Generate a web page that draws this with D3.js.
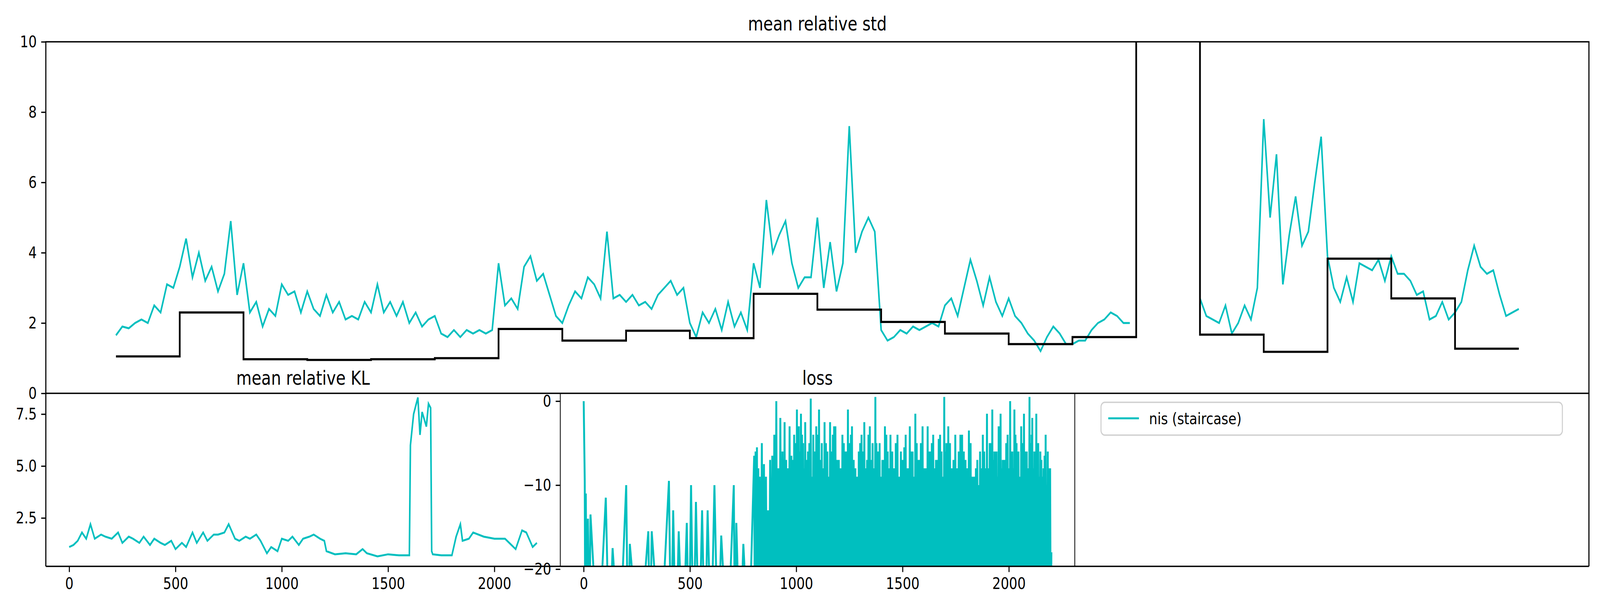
<!DOCTYPE html>
<html><head><meta charset="utf-8">
<script src="https://cdn.jsdelivr.net/npm/d3@7/dist/d3.min.js"></script>
<style>html,body{margin:0;padding:0;background:#fff;overflow:hidden}svg{display:block}text{font-family:"DejaVu Sans",sans-serif}</style>
</head><body><svg id="c" style="width:100vw;height:100vh" viewBox="0 0 5063 1572" preserveAspectRatio="none"></svg>
<script>
// ---- data ----
const stairValues = [1.05,2.3,0.97,0.95,0.97,1.0,1.83,1.5,1.78,1.57,2.83,2.38,2.03,1.7,1.4,1.6,60,1.67,1.18,3.83,2.7,1.27];
const stdValues = [
1.65,1.9,1.85,2.0,2.1,2.0,2.5,2.3,3.1,3.0,
3.6,4.4,3.3,4.0,3.2,3.6,2.9,3.4,4.9,2.8,
3.7,2.3,2.6,1.9,2.4,2.2,3.1,2.8,2.9,2.3,
2.9,2.4,2.2,2.8,2.3,2.6,2.1,2.2,2.1,2.6,
2.3,3.1,2.3,2.6,2.2,2.6,2.0,2.3,1.9,2.1,
2.2,1.7,1.6,1.8,1.6,1.8,1.7,1.8,1.7,1.8,
3.7,2.5,2.7,2.4,3.6,3.9,3.2,3.4,2.8,2.2,
2.0,2.5,2.9,2.7,3.3,3.1,2.7,4.6,2.7,2.8,
2.6,2.8,2.5,2.6,2.4,2.8,3.0,3.2,2.8,3.0,
2.0,1.6,2.3,2.0,2.4,1.8,2.6,1.9,2.3,1.8,
3.7,3.0,5.5,4.0,4.5,4.9,3.7,3.0,3.3,3.3,
5.0,3.0,4.3,2.9,3.7,7.6,4.0,4.6,5.0,4.6,
1.8,1.5,1.6,1.8,1.7,1.9,1.8,1.9,2.0,1.9,
2.5,2.7,2.2,3.0,3.8,3.2,2.5,3.3,2.6,2.2,
2.7,2.2,2.0,1.7,1.5,1.2,1.6,1.9,1.7,1.4,
1.4,1.5,1.5,1.8,2.0,2.1,2.3,2.2,2.0,2.0,
null,null,null,null,null,null,null,null,null,null,
2.7,2.2,2.1,2.0,2.5,1.7,2.0,2.5,2.1,3.0,
7.8,5.0,6.8,3.1,4.5,5.6,4.2,4.6,6.0,7.3,
3.9,3.0,2.6,3.3,2.6,3.7,3.6,3.5,3.8,3.2,
3.9,3.4,3.4,3.2,2.8,2.9,2.1,2.2,2.6,2.1,
2.3,2.6,3.5,4.2,3.6,3.4,3.5,2.8,2.2,2.3,2.4];
const klX = [0,20,40,60,80,100,120,150,170,200,230,250,280,300,330,350,380,400,430,450,480,500,530,550,580,600,630,650,680,700,730,750,780,800,830,850,880,900,930,950,980,1000,1030,1050,1080,1100,1130,1150,1180,1200,1210,1250,1300,1350,1380,1400,1450,1500,1550,1600,1605,1620,1640,1650,1660,1680,1690,1700,1705,1710,1750,1800,1820,1840,1850,1880,1900,1950,2000,2050,2080,2100,2130,2150,2180,2200];
const klY = [1.1,1.2,1.4,1.8,1.5,2.2,1.5,1.7,1.6,1.5,1.8,1.3,1.6,1.5,1.3,1.6,1.2,1.5,1.3,1.2,1.4,1.0,1.3,1.1,1.8,1.3,1.8,1.4,1.7,1.7,1.8,2.2,1.5,1.4,1.6,1.5,1.7,1.4,0.8,1.1,0.9,1.5,1.4,1.6,1.2,1.5,1.6,1.7,1.5,1.4,0.9,0.75,0.8,0.75,1.0,0.8,0.65,0.75,0.7,0.7,6.0,7.5,8.3,6.5,7.6,6.9,8.0,7.8,0.9,0.75,0.7,0.7,1.6,2.2,1.4,1.5,1.8,1.6,1.5,1.5,1.2,1.0,1.9,1.8,1.1,1.3];
const lossX = [0,5,10,20,32,104,136,200,217,304,320,401,421,447,485,505,528,557,583,615,647,706,718,751,802,815,828,848,867,887,906,925,945,960,977,990,1003,1012,1022,1032,1042,1055,1068,1080,1094,1107,1120,1133,1146,1159,1172,1184,1200,1217,1230,1243,1252,1262,1278,1294,1307,1320,1333,1346,1359,1372,1382,1392,1405,1417,1430,1443,1460,1476,1492,1508,1521,1534,1547,1560,1573,1586,1602,1618,1631,1644,1657,1670,1683,1696,1706,1715,1731,1748,1764,1780,1796,1812,1828,1845,1858,1871,1884,1897,1910,1922,1932,1942,1952,1961,1971,1981,1994,2006,2016,2026,2036,2045,2058,2071,2084,2097,2104,2110,2120,2129,2138,2148,2158,2168,2178,2188,2200];
const lossY = [0,-9.5,-11,-14,-13.5,-11.5,-17.5,-10,-17,-15.5,-15.5,-9.5,-13,-15.5,-14.5,-10,-12,-13,-13,-10,-16,-10,-14.5,-17,-6.5,-5.5,-9,-7.5,-13,-6.5,0,-2,-2.5,-8,-6.5,-4,-1,-3,-1.5,-5,-2.5,-6,0.3,-4,-3,-1,-5,-2.5,-6,-2.5,-4,-3,-7,-4,-6,-1,-5,-3,-8,-6,-4,-2.5,-7,-3,-5,0.5,-6,-5,-7,-3,-6,-4,-8,-4,-6,-5.5,-8,-3,-6,-1.5,-7,-5,-8,-3,-6,-4,-7,-4.5,-6,0.5,-5,-3,-8,-4,-6,-4,-7,-3.5,-9,-8,-10,-8,-6,-1.5,-5,-1,-6,-6,-3,-1.5,-7,-7,-4,0,-6,-1,-5,-6,-3,-1.5,-6,0.5,-5,-2,-6,-1.5,-5,-6,-9,-6.5,-10,-8,-18];
// secondary loss samples between the spikes (dense region from index 800)
const lossMid = [-6,-8,-5,-9,-7,-4,-8,-6,-7,-3,-7,-5,-9,-6,-4,-8,-7,-5,-9,-6,-4,-7,-8,-5,-9,-6,-3,-7,-8,-5,-6,-8,-4,-7,-9,-5,-6,-8,-4,-7,-8,-5,-6,-9,-7,-4,-8,-6,-5,-9,-7,-4,-8,-6,-9,-5,-7,-3,-8,-6,-5,-8,-7,-4,-9,-6,-8,-5,-7,-8,-4,-6,-8,-5,-9,-7,-6,-4,-8,-8,-5,-7,-6,-9,-4,-8,-7,-5,-8,-6,-8,-4,-7,-9,-5,-6,-8,-7,-4,-8,-6,-5,-9,-7,-8,-4,-6,-8,-5,-10,-7];
const stdTicks = [0,2,4,6,8,10];
const klTicks = [2.5,5.0,7.5];
const lossTicks = [0,-10,-20];
const xTicks = [0,500,1000,1500,2000];
const legendLabel = "nis (staircase)";

// ---- drawing ----
const svg = d3.select("#c");
const C = "#00bfbf";
const FS = 41.7, TS = 50;
const L=145, R=5028, T=107, M=1007, B=1450;
const xTop = d3.scaleLinear().domain([-110,2310]).range([L,R]);
const yTop = d3.scaleLinear().domain([0,10]).range([M,T]);
const xKL = d3.scaleLinear().domain([-110,2310]).range([L,1773]);
const yKL = d3.scaleLinear().domain([0.17,8.5]).range([B,M]);
const xLoss = d3.scaleLinear().domain([-110,2310]).range([1773,3401]);
const yLoss = d3.scaleLinear().domain([-19.67,0.93]).range([B,M]);

const defs = svg.append("defs");
function clip(id,x0,y0,x1,y1){defs.append("clipPath").attr("id",id).append("rect").attr("x",x0).attr("y",y0).attr("width",x1-x0).attr("height",y1-y0);}
clip("cTop",L,T,R,M); clip("cKL",L,M,1773,B); clip("cLoss",1773,M,3401,B);

// top
const gTop = svg.append("g").attr("clip-path","url(#cTop)");
const stairPts = [];
stairValues.forEach((v,i)=>{stairPts.push([i*100,v]);stairPts.push([(i+1)*100,v]);});
gTop.append("path").datum(stdValues.map((v,i)=>[i*10,v]))
  .attr("d",d3.line().defined(d=>d[1]!==null).x(d=>xTop(d[0])).y(d=>yTop(d[1])))
  .attr("fill","none").attr("stroke",C).attr("stroke-width",5);
gTop.append("path").datum(stairPts)
  .attr("d",d3.line().x(d=>xTop(d[0])).y(d=>yTop(d[1])))
  .attr("fill","none").attr("stroke","#000").attr("stroke-width",5.5);

function yaxis(scale,ticks,x,fmt){
  const g=svg.append("g").attr("transform",`translate(${x},0)`)
    .call(d3.axisLeft(scale).tickValues(ticks).tickSize(14.6).tickPadding(14).tickFormat(fmt));
  g.select(".domain").remove();
  g.selectAll("line").attr("stroke-width",3.3);
  g.selectAll("text").attr("font-size",FS).attr("font-family","DejaVu Sans");
}
function xaxis(scale){
  const g=svg.append("g").attr("transform",`translate(0,${B})`)
    .call(d3.axisBottom(scale).tickValues(xTicks).tickSize(14.6).tickPadding(14).tickFormat(d3.format("d")));
  g.select(".domain").remove();
  g.selectAll("line").attr("stroke-width",3.3);
  g.selectAll("text").attr("font-size",FS).attr("font-family","DejaVu Sans");
}
yaxis(yTop,stdTicks,L,d3.format("d"));
yaxis(yKL,klTicks,L,d3.format(".1f"));
yaxis(yLoss,lossTicks,1773,d=>d<0?"\u2212"+Math.abs(d):String(d));
xaxis(xKL); xaxis(xLoss);

// KL
svg.append("g").attr("clip-path","url(#cKL)").append("path")
  .datum(klX.map((x,i)=>[x,klY[i]]))
  .attr("d",d3.line().x(d=>xKL(d[0])).y(d=>yKL(d[1])))
  .attr("fill","none").attr("stroke",C).attr("stroke-width",5);

// loss
const lossPts=[]; let mi=0;
lossX.forEach((x,i)=>{
  lossPts.push([x,lossY[i]]);
  if(i>0 && i<lossX.length-1){
    const nx=lossX[i+1];
    if(x>=800 && mi<lossMid.length){
      lossPts.push([x+(nx-x)*0.25,-30]);
      lossPts.push([x+(nx-x)*0.5,lossMid[mi++]]);
      lossPts.push([x+(nx-x)*0.75,-30]);
    } else lossPts.push([(x+nx)/2,-30]);
  }
});
svg.append("g").attr("clip-path","url(#cLoss)").append("path")
  .datum(lossPts)
  .attr("d",d3.line().x(d=>xLoss(d[0])).y(d=>yLoss(d[1])))
  .attr("fill","none").attr("stroke",C).attr("stroke-width",6);

// frames
const fr = svg.append("g").attr("stroke","#000").attr("fill","none");
fr.append("rect").attr("x",L).attr("y",T).attr("width",R-L).attr("height",M-T).attr("stroke-width",3.5);
fr.append("line").attr("x1",L).attr("x2",R).attr("y1",B).attr("y2",B).attr("stroke-width",3.5);
fr.append("line").attr("x1",L).attr("x2",L).attr("y1",M).attr("y2",B).attr("stroke-width",3.5);
fr.append("line").attr("x1",R).attr("x2",R).attr("y1",M).attr("y2",B).attr("stroke-width",3.5);
fr.append("line").attr("x1",1773).attr("x2",1773).attr("y1",M).attr("y2",B).attr("stroke-width",2.5);
fr.append("line").attr("x1",3401).attr("x2",3401).attr("y1",M).attr("y2",B).attr("stroke-width",2.5);

// titles
function title(t,x,y){svg.append("text").attr("x",x).attr("y",y).attr("text-anchor","middle").attr("font-size",TS).text(t);}
title("mean relative std",(L+R)/2,78);
title("mean relative KL",(L+1773)/2,985);
title("loss",(1773+3401)/2,985);

// legend
const lg=svg.append("g");
lg.append("rect").attr("x",3484).attr("y",1030).attr("width",1460).attr("height",84).attr("rx",12)
  .attr("fill","#fff").attr("fill-opacity",0.8).attr("stroke","#d0d0d0").attr("stroke-width",3.3);
lg.append("line").attr("x1",3507).attr("x2",3604).attr("y1",1071).attr("y2",1071).attr("stroke",C).attr("stroke-width",5);
lg.append("text").attr("x",3636).attr("y",1086).attr("font-size",FS).text(legendLabel);
</script></body></html>
